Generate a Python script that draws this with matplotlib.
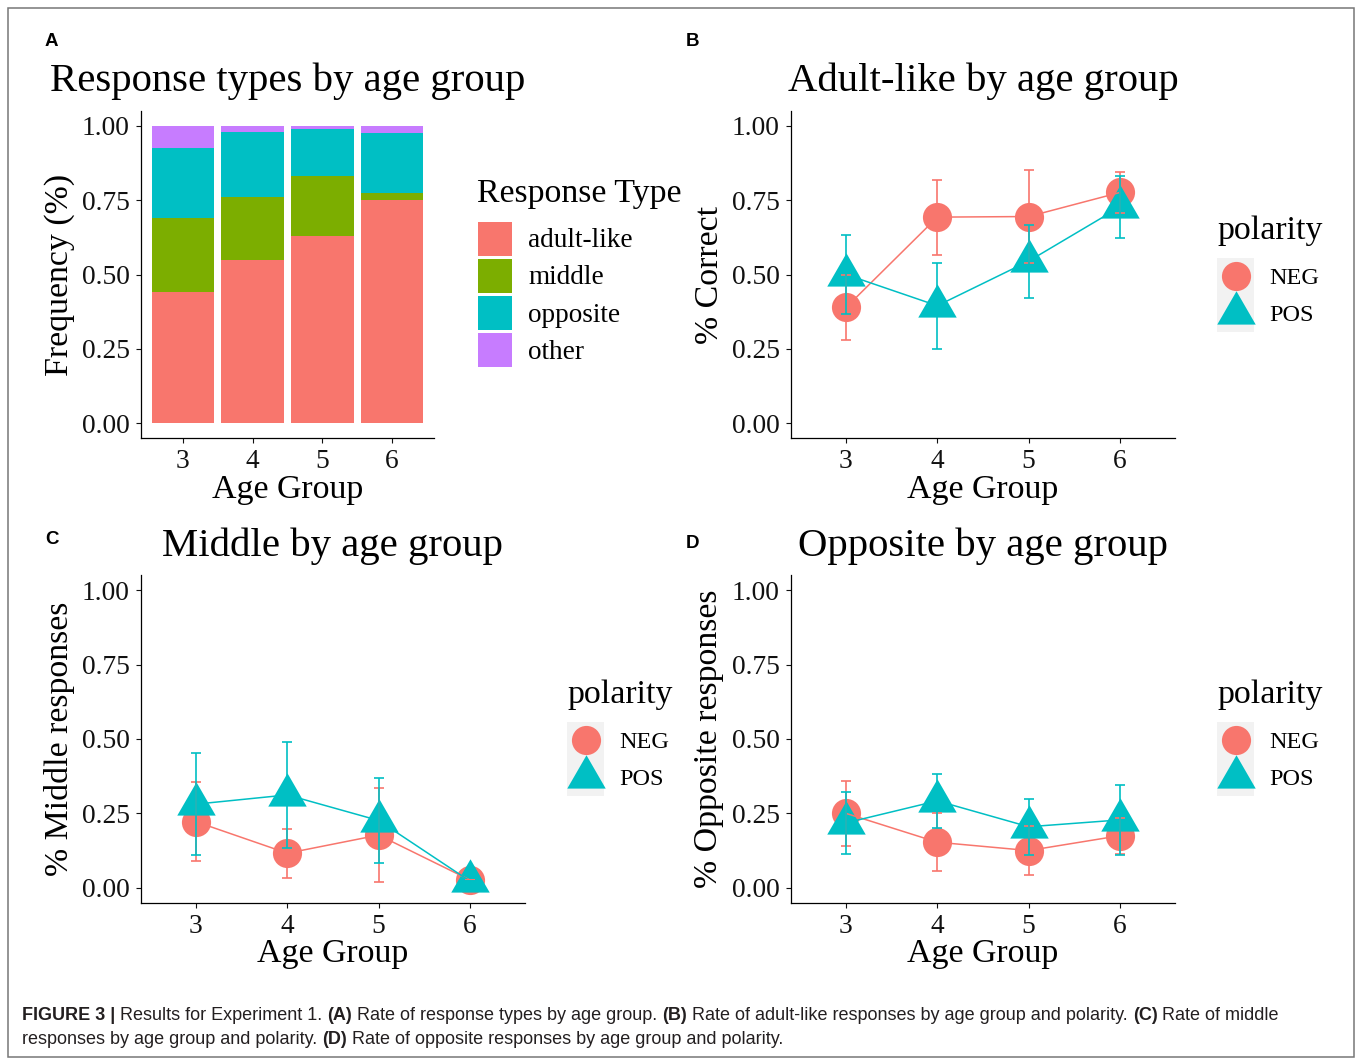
import numpy as np
import matplotlib
matplotlib.use("Agg")
import matplotlib.pyplot as plt
from matplotlib.patches import Rectangle
from matplotlib.transforms import Bbox, TransformedBbox

# ---- data ----
ages = ["3", "4", "5", "6"]

# panel A: stacked proportions per age group
resp_types = ["adult-like", "middle", "opposite", "other"]
resp_adult = [0.44, 0.55, 0.63, 0.75]
resp_middle = [0.25, 0.21, 0.20, 0.025]
resp_opposite = [0.235, 0.22, 0.16, 0.20]
resp_other = [0.075, 0.02, 0.01, 0.025]

# panel B: adult-like (mean, se)
adult_neg = [0.389, 0.693, 0.695, 0.776]
adult_neg_se = [0.111, 0.126, 0.157, 0.070]
adult_pos = [0.500, 0.395, 0.545, 0.727]
adult_pos_se = [0.133, 0.145, 0.123, 0.103]

# panel C: middle responses
middle_neg = [0.222, 0.116, 0.177, 0.026]
middle_neg_se = [0.132, 0.083, 0.158, 0.0]
middle_pos = [0.281, 0.312, 0.226, 0.022]
middle_pos_se = [0.171, 0.178, 0.142, 0.0]

# panel D: opposite responses
opp_neg = [0.250, 0.153, 0.125, 0.175]
opp_neg_se = [0.109, 0.097, 0.082, 0.061]
opp_pos = [0.218, 0.292, 0.205, 0.228]
opp_pos_se = [0.105, 0.090, 0.094, 0.117]

polarity = ["NEG", "POS"]
yticks = [0.0, 0.25, 0.5, 0.75, 1.0]
ytick_labels = ["0.00", "0.25", "0.50", "0.75", "1.00"]

caption1 = [("FIGURE 3 |", True), (" Results for Experiment 1. ", False), ("(A)", True),
            (" Rate of response types by age group. ", False), ("(B)", True),
            (" Rate of adult-like responses by age group and polarity. ", False),
            ("(C)", True), (" Rate of middle", False)]
caption2 = [("responses by age group and polarity. ", False), ("(D)", True),
            (" Rate of opposite responses by age group and polarity.", False)]

# ggplot default hues
RED = "#F8766D"
GREEN = "#7CAE00"
TEAL = "#00BFC4"
PURPLE = "#C77CFF"
resp_colors = [RED, GREEN, TEAL, PURPLE]

plt.rcParams["font.family"] = ["Liberation Serif", "DejaVu Serif"]

TITLE_SIZE = 29.3
AXT_SIZE = 24.4

W, H = 1358, 1058
fig = plt.figure(figsize=(W / 100, H / 100), dpi=100)


def box(x0, y0, x1, y1):
    # pixel box (top-left origin) -> figure fraction rect
    return [x0 / W, 1 - y1 / H, (x1 - x0) / W, (y1 - y0) / H]


# overlay axes in pixel coords for frame, titles, legends and caption
ov = fig.add_axes([0, 0, 1, 1])
ov.set_xlim(0, W)
ov.set_ylim(H, 0)
ov.axis("off")
ov.add_patch(Rectangle((7.5, 8), 1346, 1049, fill=False, ec="#777777", lw=1.1))

# equilateral triangle marker (like ggplot shape 17)
TRI = [(-1, -0.577), (1, -0.577), (0, 1.155)]


def style(ax):
    ax.set_xlim(-0.6, 3.6)
    ax.set_ylim(-0.05, 1.05)
    ax.set_xticks(range(len(ages)))
    ax.set_xticklabels(ages)
    ax.set_yticks(yticks)
    ax.set_yticklabels(ytick_labels)
    for s in ["top", "right"]:
        ax.spines[s].set_visible(False)
    for s in ["left", "bottom"]:
        ax.spines[s].set_linewidth(0.9)
    ax.tick_params(length=3.6, width=0.8, pad=4.6, labelsize=19.8, colors="#111111")
    ax.patch.set_alpha(0)


def polarity_panel(ax, neg, neg_se, pos, pos_se):
    x = np.arange(len(ages))
    ax.plot(x, neg, ls="none", marker="o", ms=21, color=RED, mec="none", zorder=3)
    ax.plot(x, pos, ls="none", marker=TRI, ms=32, color=TEAL, mec="none", zorder=3)
    ax.plot(x, neg, color=RED, lw=1.1, zorder=4)
    ax.plot(x, pos, color=TEAL, lw=1.1, zorder=4)
    ax.errorbar(x, neg, yerr=neg_se, fmt="none", ecolor=RED, elinewidth=1.2,
                capsize=3.3, capthick=1.2, zorder=5)
    ax.errorbar(x, pos, yerr=pos_se, fmt="none", ecolor=TEAL, elinewidth=1.2,
                capsize=3.3, capthick=1.2, zorder=5)
    style(ax)


def ylabel(x, y, s, clip_x):
    t = ov.text(x, y, s, rotation=90, rotation_mode="anchor", ha="center",
                va="baseline", fontsize=AXT_SIZE)
    t.set_clip_box(TransformedBbox(Bbox.from_extents(clip_x / W, 0, 1, 1), fig.transFigure))
    t.set_clip_on(True)


def polarity_legend(x0, y0):
    # x0,y0 = left/top of the grey key box
    ov.text(x0, y0 - 18, "polarity", fontsize=AXT_SIZE, va="baseline")
    ov.add_patch(Rectangle((x0, y0), 37, 74, color="#F2F2F2", lw=0))
    ov.plot([x0 + 18.5], [y0 + 18.5], marker="o", ms=21, color=RED, mec="none")
    ov.plot([x0 + 18.5], [y0 + 55.5], marker=TRI, ms=32, color=TEAL, mec="none")
    for i, lab in enumerate(polarity):
        ov.text(x0 + 52, y0 + 27 + 36.5 * i, lab, fontsize=17.5, va="baseline")


# ---- panel A ----
axA = fig.add_axes(box(141.2, 111, 433.8, 438))
xA = np.arange(len(ages))
bottom = np.zeros(len(ages))
for vals, col in zip([resp_adult, resp_middle, resp_opposite, resp_other], resp_colors):
    axA.bar(xA, vals, width=0.9, bottom=bottom, color=col, lw=0)
    bottom += np.array(vals)
style(axA)

# ---- panels B, C, D ----
axB = fig.add_axes(box(791.2, 111, 1174.8, 438))
polarity_panel(axB, adult_neg, adult_neg_se, adult_pos, adult_pos_se)
axC = fig.add_axes(box(141.2, 575.4, 524.8, 902.6))
polarity_panel(axC, middle_neg, middle_neg_se, middle_pos, middle_pos_se)
axD = fig.add_axes(box(791.2, 575.4, 1174.8, 902.6))
polarity_panel(axD, opp_neg, opp_neg_se, opp_pos, opp_pos_se)

# titles
ov.text(288, 91, "Response types by age group", ha="center", va="baseline", fontsize=TITLE_SIZE)
ov.text(983, 91, "Adult-like by age group", ha="center", va="baseline", fontsize=TITLE_SIZE)
ov.text(333, 556, "Middle by age group", ha="center", va="baseline", fontsize=TITLE_SIZE)
ov.text(983, 556, "Opposite by age group", ha="center", va="baseline", fontsize=TITLE_SIZE)

# x axis titles
for cx, by in [(288, 498), (983, 498), (333, 962), (983, 962)]:
    ov.text(cx, by, "Age Group", ha="center", va="baseline", fontsize=AXT_SIZE)

# y axis titles
ylabel(68, 274.5, "Frequency (%)", 42)
ylabel(717.5, 274.5, "% Correct", 691.5)
ylabel(68, 739, "% Middle responses", 42)
ylabel(717.5, 739, "% Opposite responses", 691.5)

# panel letters
for lx, ly, lab in [(45, 46.5, "A"), (686, 46.5, "B"), (45, 544, "C"), (686, 548, "D")]:
    ov.text(lx, ly, lab, fontfamily=["Liberation Sans", "DejaVu Sans"], fontweight="bold",
            fontsize=13.5, va="baseline")

# legend for panel A
ov.text(477, 202, "Response Type", fontsize=AXT_SIZE, va="baseline")
for i, (lab, col) in enumerate(zip(resp_types, resp_colors)):
    yc = 238.7 + 37.2 * i
    ov.add_patch(Rectangle((478, yc - 17), 34, 34, color=col, lw=0))
    ov.text(528, yc + 8.6, lab, fontsize=19.6, va="baseline")

polarity_legend(1217, 257.5)
polarity_legend(567, 721.5)
polarity_legend(1217, 721.5)

# ---- caption with mixed bold / regular runs ----
renderer = fig.canvas.get_renderer()
CAP_FONT = ["Liberation Sans Narrow", "Liberation Sans", "DejaVu Sans"]


def text_w(s, size, bold):
    t = ov.text(0, 0, s, fontsize=size, fontfamily=CAP_FONT,
                fontweight="bold" if bold else "normal")
    w = t.get_window_extent(renderer).width
    t.remove()
    return w


def draw_runs(runs, x, y, size, keep=True):
    arts = []
    for s, bold in runs:
        sp = text_w("a a", size, bold) - text_w("aa", size, bold)
        lead = len(s) - len(s.lstrip(" "))
        trail = len(s) - len(s.rstrip(" "))
        x += lead * sp
        core = s.strip(" ")
        t = ov.text(x, y, core, fontsize=size, fontfamily=CAP_FONT, va="baseline",
                    fontweight="bold" if bold else "normal", color="#231f20")
        x += t.get_window_extent(renderer).width + trail * sp
        arts.append(t)
    if not keep:
        for t in arts:
            t.remove()
    return x


end = draw_runs(caption1, 22, 1020, 10, keep=False)
cap_size = 10 * (1281 - 22) / (end - 22)
draw_runs(caption1, 22, 1020, cap_size)
draw_runs(caption2, 22, 1044, cap_size)

fig.savefig("out.png", dpi=100)
